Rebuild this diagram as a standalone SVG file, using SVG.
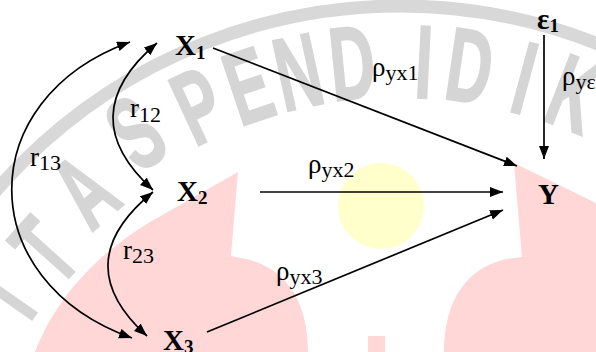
<svg xmlns="http://www.w3.org/2000/svg" width="596" height="352" viewBox="0 0 596 352">
<style>
.pk{fill:#ffd7d7}
.wm{fill:#d5d5d5;stroke:#d5d5d5;stroke-width:2;font-family:'Liberation Sans',Arial,sans-serif;font-weight:bold;font-size:104px;text-anchor:middle}
.t{font-family:'Liberation Serif','Times New Roman',serif;fill:#000}
.b{font-weight:bold;font-size:29px}
.bs{font-weight:bold;font-size:19px}
.g{font-size:27px}
.s{font-size:22px}
.ln{stroke:#000;stroke-width:1.7;fill:none;marker-end:url(#ah)}
.cv{stroke:#000;stroke-width:1.7;fill:none;marker-start:url(#ah);marker-end:url(#ah)}
</style>
<defs>
<marker id="ah" markerUnits="userSpaceOnUse" markerWidth="14" markerHeight="12" refX="13" refY="5" orient="auto-start-reverse"><path d="M0,0L13,5L0,10z" fill="#000"/></marker>
</defs>
<rect width="596" height="352" fill="#fff"/>
<g id="watermark">
<path class="pk" d="M35,352 C55,300 95,255 150,222 L238,172 L231,256 L246,259 C285,268 308,300 308,352 Z"/>
<path class="pk" d="M444,352 C444,300 467,268 506,259 L522,257 L514,163 L600,205 L600,352 Z"/>
<rect class="pk" x="368" y="336" width="17" height="16"/>
<circle cx="381" cy="206" r="43" fill="#ffffcc"/>
<circle cx="400" cy="540" r="534" fill="none" stroke="#d8d8d8" stroke-width="13"/>
<text class="wm" transform="translate(4,295) rotate(-55) scale(0.6,1)" y="37">I</text>
<text class="wm" transform="translate(44,250) rotate(-48) scale(0.6,1)" y="37">T</text>
<text class="wm" transform="translate(84,190) rotate(-41) scale(0.6,1)" y="37">A</text>
<text class="wm" transform="translate(135,132) rotate(-34) scale(0.6,1)" y="37">S</text>
<text class="wm" transform="translate(198,105) rotate(-24.9) scale(0.6,1)" y="37">P</text>
<text class="wm" transform="translate(248,85) rotate(-18.5) scale(0.6,1)" y="37">E</text>
<text class="wm" transform="translate(298,71) rotate(-12.3) scale(0.6,1)" y="37">N</text>
<text class="wm" transform="translate(352,62) rotate(-5.7) scale(0.6,1)" y="37">D</text>
<text class="wm" transform="translate(424,61) rotate(2.9) scale(0.6,1)" y="37">I</text>
<text class="wm" transform="translate(470,65) rotate(8.4) scale(0.6,1)" y="37">D</text>
<text class="wm" transform="translate(525,77) rotate(15.1) scale(0.6,1)" y="37">I</text>
<text class="wm" transform="translate(575,93) rotate(21.4) scale(0.6,1)" y="37">K</text>
</g>
<g id="connectors">
<path class="ln" d="M213,48 L517,166"/>
<path class="ln" d="M260,192 L503,192"/>
<path class="ln" d="M207,332 L503,210"/>
<path class="ln" d="M544,35 L544,159"/>
<path class="cv" d="M130,42 C-28,99 -28,281 132,338"/>
<path class="cv" d="M157,43 C99,92 99,141 153,190"/>
<path class="cv" d="M153,192 C94,240 94,288 147,336"/>
</g>
<g id="edge-labels">
<text class="t g" x="372" y="76">ρ<tspan class="s" dy="4">yx1</tspan></text>
<text class="t g" x="308" y="173">ρ<tspan class="s" dy="4">yx2</tspan></text>
<text class="t g" x="276" y="280">ρ<tspan class="s" dy="4">yx3</tspan></text>
<text class="t g" x="562" y="85">ρ<tspan class="s" dy="4">yε</tspan></text>
<text class="t g" x="130" y="117">r<tspan class="s" dy="5">12</tspan></text>
<text class="t g" x="30" y="166">r<tspan class="s" dy="4">13</tspan></text>
<text class="t g" x="123" y="259">r<tspan class="s" dy="4">23</tspan></text>
</g>
<g id="X1"><text class="t b" x="175" y="55">X<tspan class="bs" dy="4">1</tspan></text></g>
<g id="X2"><text class="t b" x="177" y="201">X<tspan class="bs" dy="3">2</tspan></text></g>
<g id="X3"><text class="t b" x="163" y="350">X<tspan class="bs" dy="3">3</tspan></text></g>
<g id="Y"><text class="t b" x="538" y="204">Y</text></g>
<g id="e1"><text class="t b" x="537" y="29">ε<tspan class="bs" dy="3">1</tspan></text></g>
</svg>
